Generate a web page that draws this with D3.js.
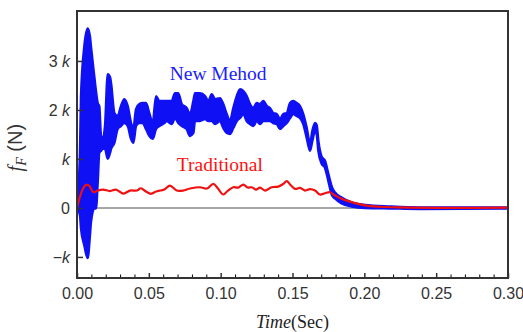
<!DOCTYPE html>
<meta charset="utf-8">
<script src="https://cdnjs.cloudflare.com/ajax/libs/d3/7.8.5/d3.min.js"></script>
<style>
  body { margin: 0; background: #fff; }
</style>
<div id="my_dataviz"></div>
<script>

// "New Method" force: fast oscillation drawn as an envelope band (time in s, force in N)
var newTime  = [0.0000, 0.0021, 0.0028, 0.0051, 0.0074, 0.0090, 0.0097, 0.0120, 0.0132, 0.0144,
                0.0155, 0.0167, 0.0179, 0.0195, 0.0214, 0.0230, 0.0237, 0.0260, 0.0283, 0.0306,
                0.0329, 0.0353, 0.0376, 0.0392, 0.0411, 0.0434, 0.0457, 0.0480, 0.0503, 0.0527,
                0.0550, 0.0573, 0.0608, 0.0624, 0.0659, 0.0682, 0.0705, 0.0729, 0.0763, 0.0786,
                0.0810, 0.0821, 0.0856, 0.0891, 0.0914, 0.0938, 0.0961, 0.0995, 0.1018, 0.1042,
                0.1065, 0.1088, 0.1112, 0.1135, 0.1158, 0.1181, 0.1204, 0.1227, 0.1251, 0.1274,
                0.1297, 0.1322, 0.1343, 0.1366, 0.1390, 0.1413, 0.1436, 0.1460, 0.1483, 0.1506,
                0.1529, 0.1552, 0.1575, 0.1599, 0.1622, 0.1638, 0.1657, 0.1668, 0.1680, 0.1703,
                0.1726, 0.1749, 0.1773, 0.1796, 0.1842, 0.1912, 0.2005, 0.2179, 0.2387, 0.3000];
var newUpper = [0, 1166, 2282, 3296, 3661, 3499, 3296, 2688, 2383, 2140,
                2079, 1471, 1410, 1673, 2728, 2667, 2546, 1937, 1876, 2079,
                2221, 2079, 1734, 1613, 2018, 2120, 2140, 2140, 1937, 1734,
                2282, 2181, 2181, 2181, 2181, 2343, 2343, 2120, 2039, 1917,
                2181, 2343, 2343, 2282, 2181, 2323, 2221, 2241, 2120, 1917,
                1775, 2039, 2282, 2424, 2383, 2282, 2120, 2039, 2140, 2120,
                2181, 2079, 2039, 1937, 1917, 1815, 1917, 1937, 2140, 2181,
                2140, 2079, 1917, 1633, 1308, 1572, 1734, 1694, 1369, 1045,
                963, 700, 436, 314, 213, 112, 61, 30, 10, 10];
var newLower = [0, -152, -416, -761, -1024, -558, -294, -10, -10, 517,
                1126, 1166, 1207, 1207, 1004, 1126, 1207, 1329, 1613, 1673,
                1734, 1673, 1410, 1329, 1673, 1734, 1734, 1613, 1471, 1410,
                1613, 1673, 1734, 1775, 1714, 1836, 1734, 1673, 1613, 1471,
                1531, 1775, 1775, 1815, 1775, 1775, 1714, 1775, 1633, 1531,
                1511, 1633, 1775, 1836, 1917, 1775, 1714, 1673, 1775, 1714,
                1775, 1775, 1775, 1734, 1714, 1613, 1673, 1734, 1836, 1917,
                1876, 1836, 1714, 1430, 1166, 1369, 1572, 1511, 1166, 903,
                822, 558, 274, 193, 91, 30, 0, -10, -20, -10];

// Traditional force
var tradTime  = [0.0000, 0.0021, 0.0042, 0.0063, 0.0084, 0.0104, 0.0120, 0.0146, 0.0181, 0.0230,
                 0.0271, 0.0324, 0.0369, 0.0416, 0.0445, 0.0480, 0.0515, 0.0550, 0.0578, 0.0608,
                 0.0647, 0.0694, 0.0738, 0.0787, 0.0856, 0.0905, 0.0949, 0.0981, 0.1018, 0.1051,
                 0.1088, 0.1121, 0.1158, 0.1187, 0.1216, 0.1246, 0.1274, 0.1309, 0.1355, 0.1401,
                 0.1436, 0.1460, 0.1483, 0.1518, 0.1552, 0.1587, 0.1622, 0.1657, 0.1691, 0.1726,
                 0.1761, 0.1796, 0.1842, 0.1912, 0.2005, 0.2109, 0.2248, 0.2596, 0.3000];
var tradForce = [0, 233, 396, 471, 456, 355, 320, 355, 375, 345,
                 375, 294, 355, 355, 402, 335, 288, 335, 355, 375,
                 456, 355, 355, 396, 422, 396, 491, 396, 274, 355,
                 422, 416, 477, 416, 422, 375, 416, 355, 422, 436,
                 491, 548, 477, 389, 410, 355, 385, 355, 274, 300,
                 320, 254, 187, 118, 51, 24, 10, 0, 6];

var xMajor = [0, 0.05, 0.10, 0.15, 0.20, 0.25, 0.30];
var xMinor = [0.01, 0.02, 0.03, 0.04, 0.06, 0.07, 0.08, 0.09, 0.11, 0.12, 0.13, 0.14,
              0.16, 0.17, 0.18, 0.19, 0.21, 0.22, 0.23, 0.24, 0.26, 0.27, 0.28, 0.29];
var yTicks = [-1000, 0, 1000, 2000, 3000];
var yTickLabels = ["−k", "0", "k", "2 k", "3 k"];

var margin = {top: 11, right: 15, bottom: 54, left: 77},
    width = 523 - margin.left - margin.right,
    height = 332 - margin.top - margin.bottom;

var svg = d3.select("#my_dataviz")
  .append("svg")
    .attr("width", 523)
    .attr("height", 332)
  .append("g")
    .attr("transform", "translate(" + margin.left + "," + margin.top + ")");

var x = d3.scaleLinear().domain([0, 0.30]).range([0, width]);
var y = d3.scaleLinear().domain([-1430, 4020]).range([height, 0]);

svg.append("defs").append("clipPath").attr("id", "clip")
  .append("rect").attr("width", width).attr("height", height);

// zero line
svg.append("line")
  .attr("x1", 0).attr("x2", width)
  .attr("y1", y(0)).attr("y2", y(0))
  .attr("stroke", "#8a8a8a").attr("stroke-width", 1.5);

var plot = svg.append("g").attr("clip-path", "url(#clip)");

// blue band
var band = d3.area()
  .x(function(d, i) { return x(newTime[i]); })
  .y0(function(d, i) { return y(newLower[i]); })
  .y1(function(d, i) { return y(newUpper[i]); })
  .curve(d3.curveMonotoneX);
plot.append("path")
  .datum(newTime)
  .attr("d", band)
  .attr("fill", "#1010f5")
  .attr("stroke", "#1010f5")
  .attr("stroke-width", 2.5)
  .attr("stroke-linejoin", "round");

// red line
var line = d3.line()
  .x(function(d, i) { return x(tradTime[i]); })
  .y(function(d) { return y(d); })
  .curve(d3.curveCatmullRom);
plot.append("path")
  .datum(tradForce)
  .attr("d", line)
  .attr("fill", "none")
  .attr("stroke", "#f01010")
  .attr("stroke-width", 2.2);

// x axis
svg.append("g")
  .attr("transform", "translate(0," + height + ")")
  .call(d3.axisBottom(x).tickValues(xMinor).tickSize(-3.5).tickFormat(""))
  .call(function(g) { g.select(".domain").remove(); });
var xAxis = svg.append("g")
  .attr("transform", "translate(0," + height + ")")
  .call(d3.axisBottom(x).tickValues(xMajor).tickSize(-5).tickPadding(10)
    .tickFormat(d3.format(".2f")));
xAxis.select(".domain").remove();
xAxis.selectAll("text")
  .style("font-family", "Liberation Sans, Arial, sans-serif")
  .style("font-size", "16px")
  .attr("fill", "#333");
xAxis.selectAll("line").attr("stroke", "#333").attr("stroke-width", 1.5);

// y axis
var yAxis = svg.append("g")
  .call(d3.axisLeft(y).tickValues(yTicks).tickSize(-6).tickPadding(7).tickFormat(""));
yAxis.select(".domain").remove();
yAxis.selectAll("line").attr("stroke", "#333").attr("stroke-width", 1.5);
yAxis.selectAll(".tick text").each(function(d, i) {
  var t = d3.select(this)
    .style("font-family", "Liberation Sans, Arial, sans-serif")
    .style("font-size", "16px")
    .attr("fill", "#333");
  var lab = yTickLabels[i];
  var k = lab.indexOf("k");
  if (k < 0) { t.text(lab); return; }
  t.append("tspan").text(lab.slice(0, k));
  t.append("tspan").style("font-style", "italic").text("k");
});

// frame
svg.append("rect")
  .attr("width", width).attr("height", height)
  .attr("fill", "none").attr("stroke", "#333").attr("stroke-width", 2);

// annotations
svg.append("text")
  .attr("x", x(0.0645)).attr("y", 69)
  .style("font-family", "Liberation Serif, Times New Roman, serif")
  .style("font-size", "19.5px")
  .attr("fill", "#2020ff")
  .text("New Mehod");
svg.append("text")
  .attr("x", x(0.0695)).attr("y", 160)
  .style("font-family", "Liberation Serif, Times New Roman, serif")
  .style("font-size", "19.5px")
  .attr("fill", "#ff1010")
  .text("Traditional");

// axis titles
var xt = svg.append("text")
  .attr("x", width / 2).attr("y", height + 50)
  .attr("text-anchor", "middle")
  .style("font-family", "Liberation Serif, Times New Roman, serif")
  .style("font-size", "18px")
  .attr("fill", "#222");
xt.append("tspan").style("font-style", "italic").text("Time");
xt.append("tspan").text("(Sec)");

var yt = svg.append("text")
  .attr("transform", "translate(-55," + (y(1230)) + ") rotate(-90)")
  .attr("text-anchor", "middle")
  .style("font-family", "Liberation Sans, Arial, sans-serif")
  .style("font-size", "20px")
  .attr("fill", "#333");
yt.append("tspan")
  .style("font-family", "Liberation Serif, Times New Roman, serif")
  .style("font-style", "italic").text("f");
yt.append("tspan")
  .style("font-family", "Liberation Serif, Times New Roman, serif")
  .style("font-style", "italic").style("font-size", "14px")
  .attr("dy", 4).text("F");
yt.append("tspan").attr("dy", -4).text(" (N)");

</script>
